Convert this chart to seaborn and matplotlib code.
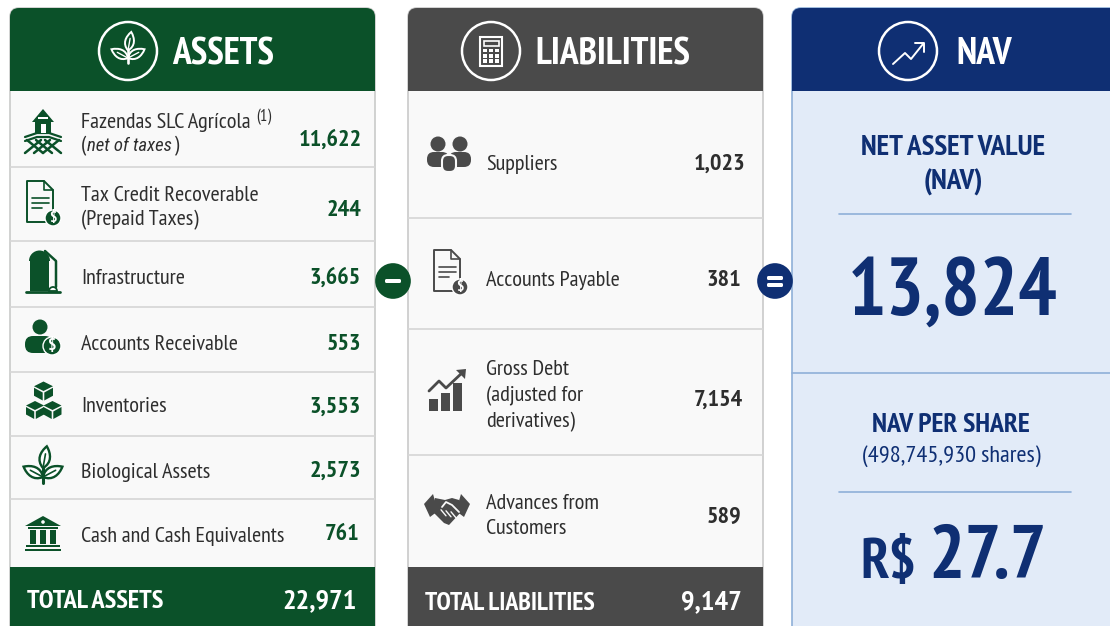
import numpy as np
import pandas as pd
import matplotlib
matplotlib.use("Agg")
import matplotlib.pyplot as plt
from matplotlib.patches import Circle, FancyBboxPatch, PathPatch, Polygon, Rectangle, Wedge
from matplotlib.path import Path
import seaborn as sns

# Data
asset_labels = ["Fazendas SLC Agrícola", "Tax Credit Recoverable\n(Prepaid Taxes)", "Infrastructure",
                "Accounts Receivable", "Inventories", "Biological Assets", "Cash and Cash Equivalents"]
asset_values = ["11,622", "244", "3,665", "553", "3,553", "2,573", "761"]
liability_labels = ["Suppliers", "Accounts Payable", "Gross Debt\n(adjusted for\nderivatives)", "Advances from\nCustomers"]
liability_values = ["1,023", "381", "7,154", "589"]
total_assets = "22,971"
total_liabilities = "9,147"
nav_value = "13,824"
nav_per_share = "27.7"
share_count = "(498,745,930 shares)"

# Layout in reference pixels
asset_seps = [167, 241, 307, 372, 436, 499]
asset_label_y = [123, 208, 279, 345, 407, 472, 537]
asset_value_y = [140, 210, 278, 344, 407, 471, 535]
asset_value_x = [362, 361, 361, 361, 361, 361, 359]
liab_seps = [218, 329, 455]
liab_label_y = [164, 280, 396, 516]
liab_value_y = [164, 280, 400, 517]
liab_value_x = [745, 741, 743, 741]

GREEN = "#0b5129"
GREY = "#4a4a4a"
NAVY = "#0f2f73"
BODY = "#f9f9f9"
NAV_BODY = "#e2ebf8"
SEP = "#d6d6d6"
NAV_LINE = "#8fb0d8"
TEXT = "#2e2e2e"

sns.set_theme(style="white")
plt.rcParams["font.family"] = ["PT Sans Narrow", "Roboto Condensed", "Roboto", "DejaVu Sans"]

fig, ax = plt.subplots(figsize=(11.1, 6.26), dpi=100)
ax.set_position([0, 0, 1, 1])
ax.set_xlim(0, 1110)
ax.set_ylim(626, 0)


def panel(x0, x1, body, edge, head):
    bg = FancyBboxPatch((x0, 8), x1 - x0, 640, boxstyle="round,pad=0,rounding_size=9",
                        fc=body, ec=edge, lw=1.2, zorder=1)
    ax.add_patch(bg)
    top = Rectangle((x0, 0), x1 - x0, 91, fc=head, ec="none", zorder=2)
    ax.add_patch(top)
    top.set_clip_path(bg)
    return bg


def leaf(x, y, length, width, angle, fc, ec, lw=1.5):
    # leaf shape from its stem point, angle in degrees (0 = up)
    a = np.radians(angle)
    u = np.array([np.sin(a), -np.cos(a)])
    v = np.array([np.cos(a), np.sin(a)])
    p = np.array([x, y])
    verts = [p, p + u * length * .3 + v * width, p + u * length * .7 + v * width * .7, p + u * length,
             p + u * length * .7 - v * width * .7, p + u * length * .3 - v * width, p]
    codes = [Path.MOVETO] + [Path.CURVE4] * 6
    ax.add_patch(PathPatch(Path(verts, codes), fc=fc, ec=ec, lw=lw, zorder=5))
    ax.plot([x, x + u[0] * length * .65], [y, y + u[1] * length * .65], color=ec, lw=lw * .7, zorder=6)


def sprout(cx, cy, c, fc, s=1.0, lw=1.5):
    leaf(cx, cy + 4 * s, 22 * s, 8 * s, 10, fc, c, lw)
    leaf(cx, cy + 13 * s, 22 * s, 8 * s, -62, fc, c, lw)
    leaf(cx, cy + 13 * s, 22 * s, 8 * s, 62, fc, c, lw)
    ax.plot([cx, cx], [cy + 3 * s, cy + 19 * s], color=c, lw=lw + .5, zorder=6)


def dollar(cx, cy, r, c):
    ax.add_patch(Circle((cx, cy), r, fc=c, ec="white", lw=1, zorder=7))
    ax.text(cx, cy, "$", color="white", fontsize=r * 1.4, fontweight="bold", ha="center", va="center", zorder=8)


def doc(cx, cy, c):
    x0, x1, y0, y1 = cx - 16, cx + 10, cy - 22, cy + 19
    ax.add_patch(Polygon([(x0, y0), (x1 - 9, y0), (x1, y0 + 9), (x1, y1), (x0, y1)], closed=True,
                         fc="none", ec=c, lw=1.4, joinstyle="round", zorder=5))
    ax.plot([x1 - 9, x1 - 9, x1], [y0, y0 + 9, y0 + 9], color=c, lw=1.2, zorder=5)
    for yy, end in zip([cy - 5, cy, cy + 5], [x1 - 4, x1 - 4, x1 - 11]):
        ax.plot([x0 + 5, end], [yy, yy], color=c, lw=1.2, zorder=5)
    dollar(cx + 10, cy + 15, 8, c)


def farm(cx, cy, c):
    ax.add_patch(Polygon([(cx - 11, cy - 15), (cx, cy - 28), (cx + 11, cy - 15), (cx + 8, cy - 15), (cx + 8, cy - 4),
                          (cx - 8, cy - 4), (cx - 8, cy - 15)], closed=True, fc=c, ec="none", zorder=5))
    ax.add_patch(Rectangle((cx - 2.5, cy - 13), 5, 9, fc="white", ec="none", zorder=6))
    ax.add_patch(Rectangle((cx - 5, cy - 20), 10, 2, fc="white", ec="none", zorder=6))
    for dy in [-3, 1]:
        ax.plot([cx - 18, cx - 6, cx + 6, cx + 18], [cy + dy + 3, cy + dy - 1, cy + dy - 1, cy + dy + 3], color=c, lw=1.6, zorder=5)
    for off in [-12, -3, 6]:
        ax.plot([cx + off - 6, cx + off + 10], [cy + 16, cy + 3], color=c, lw=1.8, zorder=5)
        ax.plot([cx - off + 6, cx - off - 10], [cy + 16, cy + 3], color=c, lw=1.8, zorder=5)


def silo(cx, cy, c):
    ax.add_patch(Rectangle((cx - 13, cy - 12), 19, 30, fc=c, ec="none", zorder=5))
    ax.add_patch(Wedge((cx - 3.5, cy - 12), 10.5, 180, 360, fc=c, ec="none", zorder=5))
    ax.plot([cx + 2, cx + 13, cx + 13], [cy - 22, cy - 12, cy + 14], color=c, lw=1.8, zorder=5)
    ax.plot([cx - 17, cx + 17], [cy + 18.5, cy + 18.5], color=c, lw=2, zorder=5)
    ax.add_patch(Wedge((cx + 10, cy + 18), 4, 180, 360, fc="white", ec=c, lw=1.3, zorder=6))


def person_money(cx, cy, c):
    ax.add_patch(Circle((cx - 3, cy - 13), 7.5, fc=c, ec="none", zorder=5))
    ax.add_patch(FancyBboxPatch((cx - 18, cy - 4), 28, 17, boxstyle="round,pad=0,rounding_size=8", fc=c, ec="none", zorder=5))
    dollar(cx + 9, cy + 6, 9, c)


def cube(cx, cy, s, c):
    top = [(cx, cy - s), (cx + s, cy - s / 2), (cx, cy), (cx - s, cy - s / 2)]
    left = [(cx - s, cy - s / 2 + 1.5), (cx - .8, cy + 1.5), (cx - .8, cy + s), (cx - s, cy + s / 2)]
    right = [(cx + s, cy - s / 2 + 1.5), (cx + .8, cy + 1.5), (cx + .8, cy + s), (cx + s, cy + s / 2)]
    for pts in (top, left, right):
        ax.add_patch(Polygon(pts, closed=True, fc=c, ec="none", zorder=5))


def bank(cx, cy, c):
    ax.add_patch(Polygon([(cx - 18, cy - 8), (cx, cy - 18), (cx + 18, cy - 8)], closed=True, fc=c, ec="none", zorder=5))
    ax.add_patch(Circle((cx, cy - 12), 1.8, fc="white", ec="none", zorder=6))
    ax.add_patch(Rectangle((cx - 15, cy - 7), 30, 2, fc=c, ec="none", zorder=5))
    for off in [-13, -3, 7]:
        ax.add_patch(Rectangle((cx + off, cy - 4), 6, 14, fc=c, ec="none", zorder=5))
    ax.add_patch(Rectangle((cx - 17, cy + 11), 34, 2, fc=c, ec="none", zorder=5))
    ax.add_patch(Rectangle((cx - 18, cy + 15), 36, 2, fc=c, ec="none", zorder=5))


def calculator(cx, cy):
    ax.add_patch(Rectangle((cx - 11, cy - 14), 22, 29, fc="none", ec="white", lw=1.5, zorder=5))
    ax.add_patch(Rectangle((cx - 7.5, cy - 10.5), 15, 5, fc="none", ec="white", lw=1.2, zorder=5))
    for i in range(3):
        for j in range(3):
            ax.add_patch(Rectangle((cx - 8 + i * 5.8, cy - 2.5 + j * 5.4), 4.2, 3.8, fc="white", ec="none", zorder=5))


def people(cx, cy, c):
    for dx in [-11, 11]:
        ax.add_patch(Circle((cx + dx, cy - 11), 7.5, fc=c, ec="none", zorder=5))
        ax.add_patch(FancyBboxPatch((cx + dx - 11, cy - 3), 22, 15, boxstyle="round,pad=0,rounding_size=7", fc=c, ec="none", zorder=5))
    ax.add_patch(FancyBboxPatch((cx - 7, cy), 14, 17, boxstyle="round,pad=0,rounding_size=6", fc=c, ec=BODY, lw=1.5, zorder=6))


def growth(cx, cy, c):
    for dx, h in [(-14, 12), (-2, 18), (10, 28)]:
        ax.add_patch(Rectangle((cx + dx - 4.5, cy + 19 - h), 9, h, fc=c, ec="none", zorder=5))
    ax.plot([cx - 18, cx - 8, cx - 1, cx + 16], [cy - 1, cy - 11, cy - 4, cy - 20], color=c, lw=2, zorder=5)
    ax.add_patch(Polygon([(cx + 19, cy - 23), (cx + 9, cy - 22), (cx + 18, cy - 13)], closed=True, fc=c, ec="none", zorder=5))


def handshake(cx, cy, c):
    ax.add_patch(Polygon([(cx - 23, cy - 4), (cx - 14, cy - 14), (cx - 9, cy + 3), (cx - 17, cy + 9)], closed=True, fc=c, ec="none", zorder=5))
    ax.add_patch(Polygon([(cx + 23, cy - 4), (cx + 14, cy - 14), (cx + 9, cy + 3), (cx + 17, cy + 9)], closed=True, fc=c, ec="none", zorder=5))
    ax.add_patch(Polygon([(cx - 12, cy - 10), (cx - 2, cy - 8), (cx + 5, cy - 10), (cx + 12, cy - 8), (cx + 15, cy + 3),
                          (cx + 2, cy + 17), (cx - 3, cy + 15), (cx - 15, cy + 3)], closed=True, fc=c, ec="none", zorder=5))
    ax.plot([cx - 5, cx - 1, cx + 5, cx + 12], [cy - 1, cy - 6, cy - 3, cy + 4], color=BODY, lw=1.3, zorder=6)
    for off in [-6, -1, 4]:
        ax.plot([cx + off, cx + off + 5], [cy + 3 + off * .2, cy + 9 + off * .2], color=BODY, lw=1, zorder=6)


def ring(cx, cy):
    ax.add_patch(Circle((cx, cy), 29, fc="none", ec="white", lw=1.8, zorder=4))


def rows(x0, x1, seps, color):
    for y in seps:
        ax.plot([x0, x1], [y, y], color=color, lw=1.2, zorder=3)


def right_of(t, gap=0):
    # x of the right edge of a text, in reference pixels
    box = t.get_window_extent(fig.canvas.get_renderer())
    return ax.transData.inverted().transform((box.x1, box.y0))[0] + gap


# Panels
assets_bg = panel(10, 375, BODY, "#c9cbc9", GREEN)
liab_bg = panel(408, 763, BODY, "#c9c9c9", GREY)
nav_bg = panel(792, 1125, NAV_BODY, NAV_LINE, NAVY)
for x0, x1, c, bg in [(10, 375, GREEN, assets_bg), (408, 763, GREY, liab_bg)]:
    bar = Rectangle((x0, 567), x1 - x0, 70, fc=c, ec="none", zorder=2)
    ax.add_patch(bar)
    bar.set_clip_path(bg)
rows(10, 375, asset_seps, SEP)
rows(408, 763, liab_seps, SEP)
rows(792, 1110, [373], NAV_LINE)
rows(839, 1071, [214, 492], NAV_LINE)

# Headers
ring(128, 51)
ring(491, 51)
ring(908, 51)
sprout(128, 47, "white", GREEN, .85, 1.4)
calculator(491, 51)
ax.plot([893, 905, 911, 923], [64, 53, 59, 44], color="white", lw=1.4, zorder=5)
ax.plot([915, 924, 924], [43, 43, 52], color="white", lw=1.4, zorder=5)
head_kw = dict(color="white", fontweight="bold", fontsize=27, ha="left", va="center", zorder=6)
ax.text(172, 55, "ASSETS", **head_kw)
ax.text(535, 55, "LIABILITIES", **head_kw)
ax.text(956, 54, "NAV", **head_kw)

# Asset rows
label_kw = dict(color=TEXT, fontsize=16, ha="left", va="center", linespacing=1.28, zorder=6)
value_kw = dict(fontsize=17.5, fontweight="bold", ha="right", va="center", zorder=6)
for i, lab in enumerate(asset_labels):
    t = ax.text(81, asset_label_y[i], lab, **label_kw)
    ax.text(asset_value_x[i], asset_value_y[i], asset_values[i], color=GREEN, **value_kw)
    if i == 0:
        ax.text(right_of(t, 6), 117, "(1)", color=TEXT, fontsize=12, ha="left", va="center", zorder=6)
t = ax.text(81, 146, "(", **label_kw)
italic_kw = dict(label_kw, fontsize=13.5, family=["Roboto Condensed", "Roboto", "DejaVu Sans"])
t = ax.text(right_of(t, 1), 146, "net of taxes", style="italic", **italic_kw)
ax.text(right_of(t, 2), 146, ")", **label_kw)

# Liability rows
liab_kw = dict(label_kw, linespacing=1.42)
for i, lab in enumerate(liability_labels):
    ax.text(486, liab_label_y[i], lab, **liab_kw)
    ax.text(liab_value_x[i], liab_value_y[i], liability_values[i], color=TEXT, **value_kw)

# Row icons
farm(43, 137, GREEN)
doc(43, 203, GREEN)
silo(43, 273, GREEN)
person_money(43, 340, GREEN)
cube(43.5, 391, 9.5, GREEN)
cube(35, 410, 9, GREEN)
cube(52.5, 410, 9, GREEN)
sprout(43, 464, GREEN, "white", 1.0, 1.7)
bank(43, 534, GREEN)
people(449, 155, GREY)
doc(450, 272, GREY)
growth(447, 392, GREY)
handshake(447, 508, GREY)

# Totals
total_kw = dict(color="white", fontweight="bold", va="center", zorder=6)
ax.text(27, 602, "TOTAL ASSETS", fontsize=19, ha="left", **total_kw)
ax.text(357, 601, total_assets, fontsize=20.5, ha="right", **total_kw)
ax.text(425, 603, "TOTAL LIABILITIES", fontsize=18.5, ha="left", **total_kw)
ax.text(742, 602, total_liabilities, fontsize=20.5, ha="right", **total_kw)

# NAV panel
nav_kw = dict(color=NAVY, fontweight="bold", ha="center", va="center", zorder=6)
ax.text(953, 148, "NET ASSET VALUE", fontsize=21, **nav_kw)
ax.text(953, 182, "(NAV)", fontsize=21, **nav_kw)
ax.text(953, 295, nav_value, fontsize=58, **nav_kw)
ax.text(951, 425, "NAV PER SHARE", fontsize=20, **nav_kw)
ax.text(951, 456, share_count, color=NAVY, fontsize=17.6, ha="center", va="center", zorder=6)
ax.text(860, 563, "R$", color=NAVY, fontsize=41, fontweight="bold", ha="left", va="center", zorder=6)
ax.text(928, 559, nav_per_share, color=NAVY, fontsize=55, fontweight="bold", ha="left", va="center", zorder=6)

# Operator badges between panels
badges = pd.DataFrame({"x": [393, 775], "y": [281, 281], "op": ["minus", "equals"]})
sns.scatterplot(data=badges, x="x", y="y", hue="op", palette={"minus": GREEN, "equals": NAVY},
                s=660, linewidth=0, legend=False, zorder=7, ax=ax)
ax.add_patch(FancyBboxPatch((385, 279), 16, 4, boxstyle="round,pad=0,rounding_size=1.5", fc="white", ec="none", zorder=8))
for yy in [276, 283]:
    ax.add_patch(FancyBboxPatch((767, yy), 16, 4, boxstyle="round,pad=0,rounding_size=1.5", fc="white", ec="none", zorder=8))

ax.set_xlim(0, 1110)
ax.set_ylim(626, 0)
ax.set_xlabel("")
ax.set_ylabel("")
ax.set_xticks([])
ax.set_yticks([])
sns.despine(ax=ax, left=True, bottom=True)
fig.savefig("out.png", dpi=100)
